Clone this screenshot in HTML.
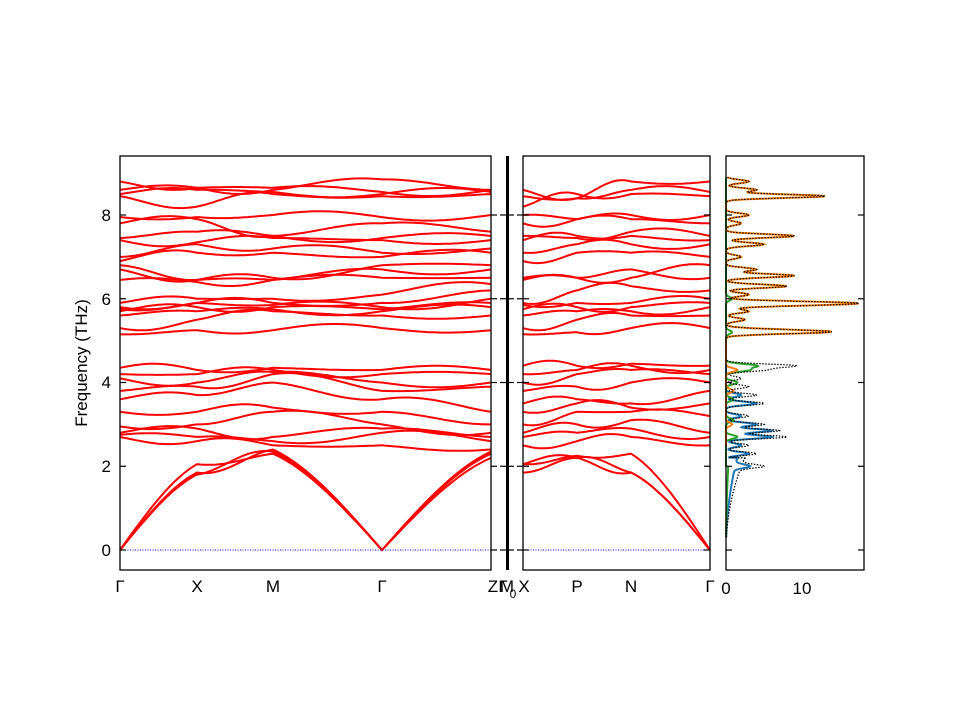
<!DOCTYPE html>
<html><head><meta charset="utf-8"><style>body{margin:0;background:#fff}svg{display:block}</style></head>
<body>
<svg id="s" width="960" height="720" xmlns="http://www.w3.org/2000/svg" font-family="Liberation Sans, DejaVu Sans, sans-serif" font-size="17">
<rect width="960" height="720" fill="#fff"/>
<g id="bands" fill="none" stroke="red" stroke-width="2"></g>
<line x1="120" y1="550" x2="491" y2="550" stroke="blue" stroke-width="1" stroke-dasharray="1,1.5"/>
<line x1="523" y1="550" x2="710" y2="550" stroke="blue" stroke-width="1" stroke-dasharray="1,1.5"/>
<g id="dos" fill="none" stroke-width="2"></g>
<g fill="none" stroke="#000" stroke-width="1.3">
<rect x="120" y="156" width="371" height="414"/>
<rect x="523" y="156" width="187" height="414"/>
<rect x="726" y="156" width="138" height="414"/>
</g>
<rect x="506" y="156" width="3" height="414" fill="#000"/>
<g id="ticks" stroke="#000" stroke-width="1.2"></g>
<g fill="#000" text-anchor="middle">
<text x="120" y="592">Γ</text><text x="197" y="592">X</text><text x="273" y="592">M</text><text x="382" y="592">Γ</text><text x="493" y="592">Z</text><text x="507" y="592">M</text><text x="503" y="592">Γ</text><text x="513" y="598" font-size="12">0</text><text x="524" y="592">X</text>
<text x="577" y="592">P</text><text x="631" y="592">N</text><text x="710" y="592">Γ</text>
<text x="726" y="594">0</text><text x="802" y="594">10</text>
</g>
<g fill="#000" text-anchor="end">
<text x="111" y="556">0</text><text x="111" y="472">2</text><text x="111" y="388">4</text><text x="111" y="305">6</text><text x="111" y="221">8</text>
</g>
<text transform="translate(87,363) rotate(-90)" text-anchor="middle" fill="#000" font-size="17">Frequency (THz)</text>
</svg>
<script>
var NS="http://www.w3.org/2000/svg";
function Y(f){return 550-41.875*f;}
function add(g,d,attrs){var p=document.createElementNS(NS,"path");p.setAttribute("d",d);for(var k in attrs)p.setAttribute(k,attrs[k]);document.getElementById(g).appendChild(p);}
function acf(t){return Math.min(1,1.25*t-0.25*t*t*t);}
function bands(xs,list){
 list.forEach(function(b,bi){
  var d="";
  for(var s=0;s<xs.length-1;s++){
   var a=b[s],c=b[s+1];
   for(var i=(s===0?0:1);i<=24;i++){
    var t=i/24,x=xs[s]+(xs[s+1]-xs[s])*t,f;
    if(a===0) f=c*acf(t);
    else if(c===0) f=a*acf(1-t);
    else f=a+(c-a)*(1-Math.cos(t*Math.PI))/2 + 0.12*Math.sin(t*Math.PI)*Math.sin(bi*1.7+s*2.3);
    d+=(d===""?"M":"L")+x.toFixed(1)+","+Y(f).toFixed(1);
   }
  }
  add("bands",d,{});
 });
}
var x1=[120,197,273,382,491];
bands(x1,[
[0,1.8,2.35,0,2.3],[0,1.85,2.4,0,2.35],[0,2.05,2.3,0,2.2],
[2.7,2.6,2.5,2.5,2.4],[2.75,2.7,2.6,2.8,2.6],[2.8,2.9,2.7,2.9,2.7],[2.95,3.0,3.3,3.0,2.8],
[3.3,3.3,3.4,3.3,3.0],[3.6,3.7,4.0,3.6,3.3],[3.8,3.9,4.2,3.8,3.9],[4.1,4.0,4.25,4.0,4.0],
[4.2,4.2,4.3,4.2,4.2],[4.35,4.3,4.35,4.3,4.3],
[5.15,5.25,5.25,5.3,5.25],[5.3,5.5,5.7,5.6,5.6],[5.6,5.7,5.75,5.7,5.8],[5.7,5.8,5.8,5.75,5.9],
[5.75,5.9,5.85,5.8,6.0],[5.8,5.9,5.9,5.9,6.2],[5.9,6.0,6.0,6.1,6.35],[6.45,6.4,6.45,6.5,6.5],
[6.7,6.45,6.45,6.7,6.7],[6.8,6.45,6.5,6.8,6.8],
[6.9,7.1,7.1,7.0,7.1],[7.0,7.3,7.2,7.1,7.2],[7.4,7.35,7.45,7.4,7.4],[7.45,7.6,7.5,7.45,7.5],
[7.8,7.9,7.5,7.8,7.6],[7.95,7.95,8.0,7.95,8.0],[8.45,8.2,8.5,8.45,8.5],[8.5,8.6,8.55,8.5,8.55],
[8.6,8.65,8.6,8.85,8.6],[8.8,8.65,8.65,8.55,8.6]
]);
var x3=[523,577,631,710];
bands(x3,[
[1.85,2.2,1.85,0],[2.05,2.2,1.85,0],[2.05,2.25,2.3,0],
[2.5,2.6,2.7,2.5],[2.7,2.8,2.9,2.7],[2.8,3.0,3.1,2.8],[3.0,3.3,3.3,3.2],[3.3,3.5,3.4,3.5],
[3.5,3.6,3.5,3.8],[3.8,3.9,4.0,4.0],[4.0,4.2,4.3,4.2],[4.2,4.3,4.4,4.3],[4.4,4.4,4.45,4.4],
[5.15,5.2,5.3,5.3],[5.3,5.5,5.6,5.6],[5.6,5.7,5.7,5.8],[5.75,5.8,5.8,5.9],[5.85,5.9,5.9,6.0],
[5.9,6.2,6.3,6.2],[6.45,6.5,6.7,6.5],[6.5,6.5,6.5,6.8],
[6.9,7.1,7.1,7.0],[7.1,7.3,7.3,7.3],[7.4,7.5,7.5,7.4],[7.5,7.45,7.6,7.5],[7.8,7.9,7.9,7.8],
[8.0,7.9,8.0,8.0],[8.2,8.5,8.5,8.45],[8.45,8.4,8.6,8.55],[8.6,8.4,8.8,8.8]
]);
function dos(peaks,col,dash,fmin,fmax,base){
 var d="";
 for(var f=fmin;f<=fmax;f+=0.01){
  var v=base?base(f):0;peaks.forEach(function(p){v+=p[1]*Math.exp(-Math.pow((f-p[0])/0.06,2));});
  d+=(d===""?"M":"L")+(726+7.6*v).toFixed(1)+","+Y(f).toFixed(1);
 }
 add("dos",d,{stroke:col,"stroke-dasharray":dash?"1.5,1.5":"none","stroke-width":dash?1.2:2});
}
var hi=[[5.2,11],[5.25,5],[5.9,14],[5.85,6],[6.3,8],[6.55,9],[6.7,4],[7.3,5],[7.5,9],[8.0,3],[8.45,13],[8.6,4],[8.8,3],[5.5,2.5],[5.7,3],[6.1,3],[7.0,2],[7.8,2]];
var lo=[[2.0,3],[2.3,4],[2.5,3],[2.7,8],[2.85,7],[3.0,5],[3.2,3],[3.5,5],[3.7,4],[3.9,3],[4.1,2],[4.3,5],[4.4,9]];
var blue=[[2.0,2],[2.3,3],[2.5,2],[2.7,6],[2.85,6],[3.0,4],[3.2,2],[3.5,4],[3.7,2]];
var green=[[2.7,1.5],[3.1,1],[3.6,1],[4.0,1.5],[4.3,3],[4.4,4],[5.2,0.8],[6.0,0.8]];
var orange=hi.concat([[3.0,0.8],[3.8,1],[4.3,1.5]]);
function ac(f){return f<2.2?1.2*f*f/4:0;}
dos(blue,"#1f77b4",false,0.3,4.6,ac);
dos(green,"#2ca02c",false,0.3,8.9,function(f){return f<2?0.3*f*f/4:0;});
dos(orange,"#ff7f0e",false,2.5,8.9);
dos(hi.concat(lo),"#000",true,0.3,8.9,function(f){return f<2.2?2*f*f/4:0;});
var T=document.getElementById("ticks");
function ln(a,b,c,d){var l=document.createElementNS(NS,"line");l.setAttribute("x1",a);l.setAttribute("y1",b);l.setAttribute("x2",c);l.setAttribute("y2",d);T.appendChild(l);}
[0,2,4,6,8].forEach(function(f){var y=Y(f);
 ln(120,y,126,y);ln(491,y,497,y);ln(500,y,514,y);ln(517,y,523,y);ln(523,y,529,y);ln(704,y,710,y);ln(726,y,732,y);ln(858,y,864,y);});
</script>
</body></html>
